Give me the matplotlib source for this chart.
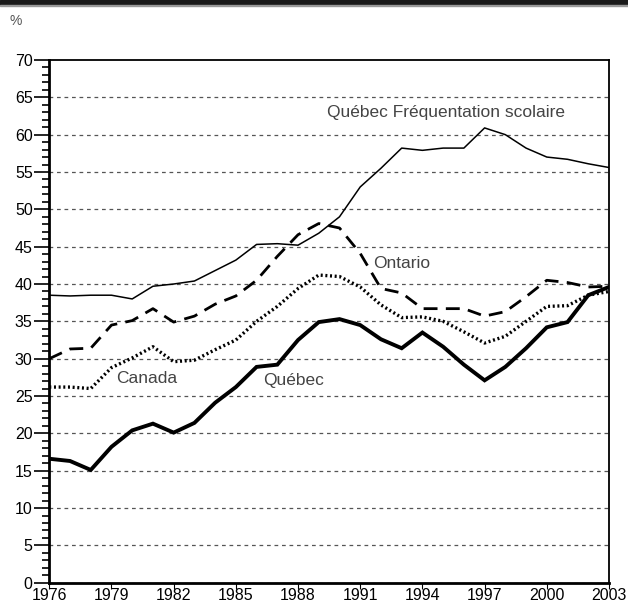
import matplotlib
matplotlib.use("Agg")
import matplotlib.pyplot as plt
from matplotlib.patches import Rectangle
from matplotlib.ticker import MultipleLocator

plt.rcParams["font.family"] = ["Liberation Sans", "DejaVu Sans"]

years = list(range(1976, 2004))

frequentation = [38.5, 38.4, 38.5, 38.5, 38.0, 39.7, 40.0, 40.4, 41.8, 43.2,
                 45.3, 45.4, 45.2, 46.8, 49.0, 53.0, 55.5, 58.2, 57.9, 58.2,
                 58.2, 60.9, 60.0, 58.2, 57.0, 56.7, 56.1, 55.6]
ontario = [30.0, 31.3, 31.4, 34.5, 35.1, 36.7, 34.9, 35.7, 37.3, 38.4,
           40.5, 43.7, 46.6, 48.1, 47.5, 44.1, 39.4, 38.8, 36.7, 36.7,
           36.7, 35.7, 36.3, 38.3, 40.5, 40.2, 39.6, 39.7]
canada = [26.2, 26.2, 26.0, 28.8, 30.1, 31.6, 29.6, 29.8, 31.2, 32.5,
          35.0, 37.0, 39.4, 41.2, 41.0, 39.6, 37.2, 35.5, 35.6, 35.0,
          33.6, 32.1, 33.0, 35.0, 37.0, 37.1, 38.5, 39.0]
quebec = [16.6, 16.3, 15.1, 18.2, 20.4, 21.3, 20.1, 21.4, 24.1, 26.2,
          28.9, 29.2, 32.5, 34.9, 35.3, 34.5, 32.6, 31.4, 33.5, 31.6,
          29.2, 27.1, 28.9, 31.4, 34.2, 34.9, 38.5, 39.6]

xticks = list(range(1976, 2004, 3))
yticks = list(range(0, 71, 5))

fig = plt.figure(figsize=(6.28, 6.07), dpi=100)
ax = fig.add_axes([0.0785, 0.04, 0.8912, 0.8612])

# bandeau noir en haut
fig.patches.append(Rectangle((0, 0.992), 1, 0.008, transform=fig.transFigure,
                             color="#1a1a1a", zorder=5))
fig.patches.append(Rectangle((0, 0.9905), 1, 0.0018, transform=fig.transFigure,
                             color="#999999", zorder=5))

for v in yticks[:-1]:
    ax.axhline(v, color="#555555", lw=0.9, ls=(0, (3, 3)), zorder=1)

ax.plot(years, frequentation, color="black", lw=1.1, zorder=3)
ax.plot(years, ontario, color="black", lw=2.0, ls=(0, (5, 3)), zorder=3)
ax.plot(years, canada, color="black", lw=2.4, ls=(0, (0.6, 0.8)),
        dash_capstyle="butt", zorder=3)
ax.plot(years, quebec, color="black", lw=2.8, solid_joinstyle="miter", zorder=4)

txt = dict(color="#444444", fontsize=12.5, va="center", ha="left")
ax.text(1989.4, 62.9, "Québec Fréquentation scolaire", **txt)
ax.text(1991.6, 42.8, "Ontario", **txt)
ax.text(1979.2, 27.4, "Canada", **txt)
ax.text(1986.3, 27.1, "Québec", **txt)

ax.set_xlim(1976, 2003)
ax.set_ylim(0, 70)
ax.set_xticks(xticks)
ax.set_yticks(yticks)
ax.yaxis.set_minor_locator(MultipleLocator(1))
ax.tick_params(axis="y", which="major", length=11, width=1.2, labelsize=11.5, pad=1)
ax.tick_params(axis="y", which="minor", length=5, width=1.2)
ax.tick_params(axis="x", which="major", length=4, width=0.8, labelsize=11.5, pad=0)
for s in ax.spines.values():
    s.set_linewidth(1.3)
ax.spines["bottom"].set_linewidth(2)
ax.spines["left"].set_linewidth(2)

fig.text(0.015, 0.965, "%", color="#555555", fontsize=10, va="center", ha="left")

fig.savefig("out.png", dpi=100)
